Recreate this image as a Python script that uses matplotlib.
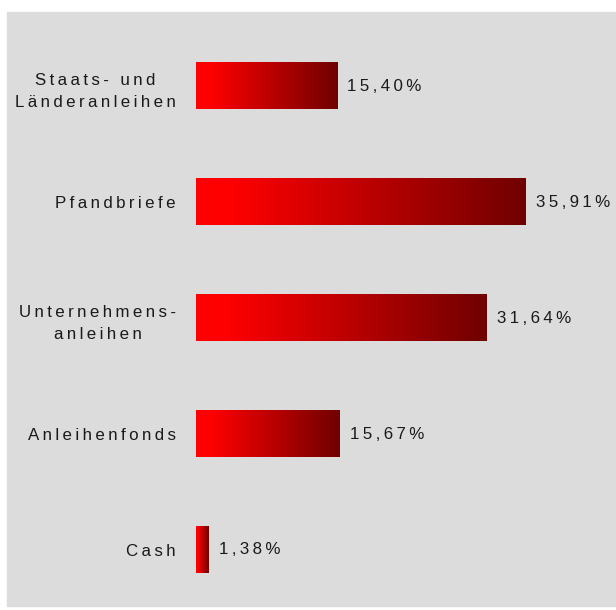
import matplotlib.pyplot as plt
import numpy as np
from matplotlib.colors import LinearSegmentedColormap
from matplotlib.patches import Rectangle

categories = ["Staats- und\nLänderanleihen", "Pfandbriefe", "Unternehmens-\nanleihen",
              "Anleihenfonds", "Cash"]
shares = [15.40, 35.91, 31.64, 15.67, 1.38]
value_labels = ["15,40%", "35,91%", "31,64%", "15,67%", "1,38%"]

THIN = "\u2009"


def spaced(s):
    # fake letter spacing with thin spaces
    return "\n".join(THIN.join(line) for line in s.split("\n"))


plt.rcParams['font.family'] = ['Liberation Sans', 'DejaVu Sans']

W, H = 616, 610
fig = plt.figure(figsize=(W / 100, H / 100), dpi=100)
fig.add_artist(Rectangle((7 / W, 4 / H), 609 / W, 594 / H, transform=fig.transFigure,
                         color='#dcdcdc', zorder=0))

px_per_unit = 9.185
ax = fig.add_axes([196 / W, 2 / H, 410 / W, 580 / H])
ax.patch.set_visible(False)
for s in ax.spines.values():
    s.set_visible(False)

cmap = LinearSegmentedColormap.from_list(
    "redfade", [(0, '#ff0000'), (0.1, '#ff0000'), (1, '#700000')])
grad = np.linspace(0, 1, 256).reshape(1, -1)
bar_h = 0.4

for i, (v, lab) in enumerate(zip(shares, value_labels)):
    ax.imshow(grad, cmap=cmap, aspect='auto', interpolation='bilinear',
              extent=(0, v, i + bar_h / 2, i - bar_h / 2), zorder=2)
    ax.annotate(spaced(lab), (v, i), xytext=(7.2, 0), textcoords='offset points',
                ha='left', va='center', fontsize=12.2, color='#1a1a1a')

ax.set_xlim(0, 410 / px_per_unit)
ax.set_ylim(4.5, -0.5)
ax.set_xticks([])
ax.set_yticks(range(len(categories)))
ax.set_yticklabels([spaced(c) for c in categories], fontsize=12.2, color='#1a1a1a')
for t in ax.get_yticklabels():
    t.set_multialignment('center')
    t.set_linespacing(1.6)
ax.tick_params(axis='y', length=0, pad=14.4)

fig.savefig("out.png", dpi=100, facecolor='white')
